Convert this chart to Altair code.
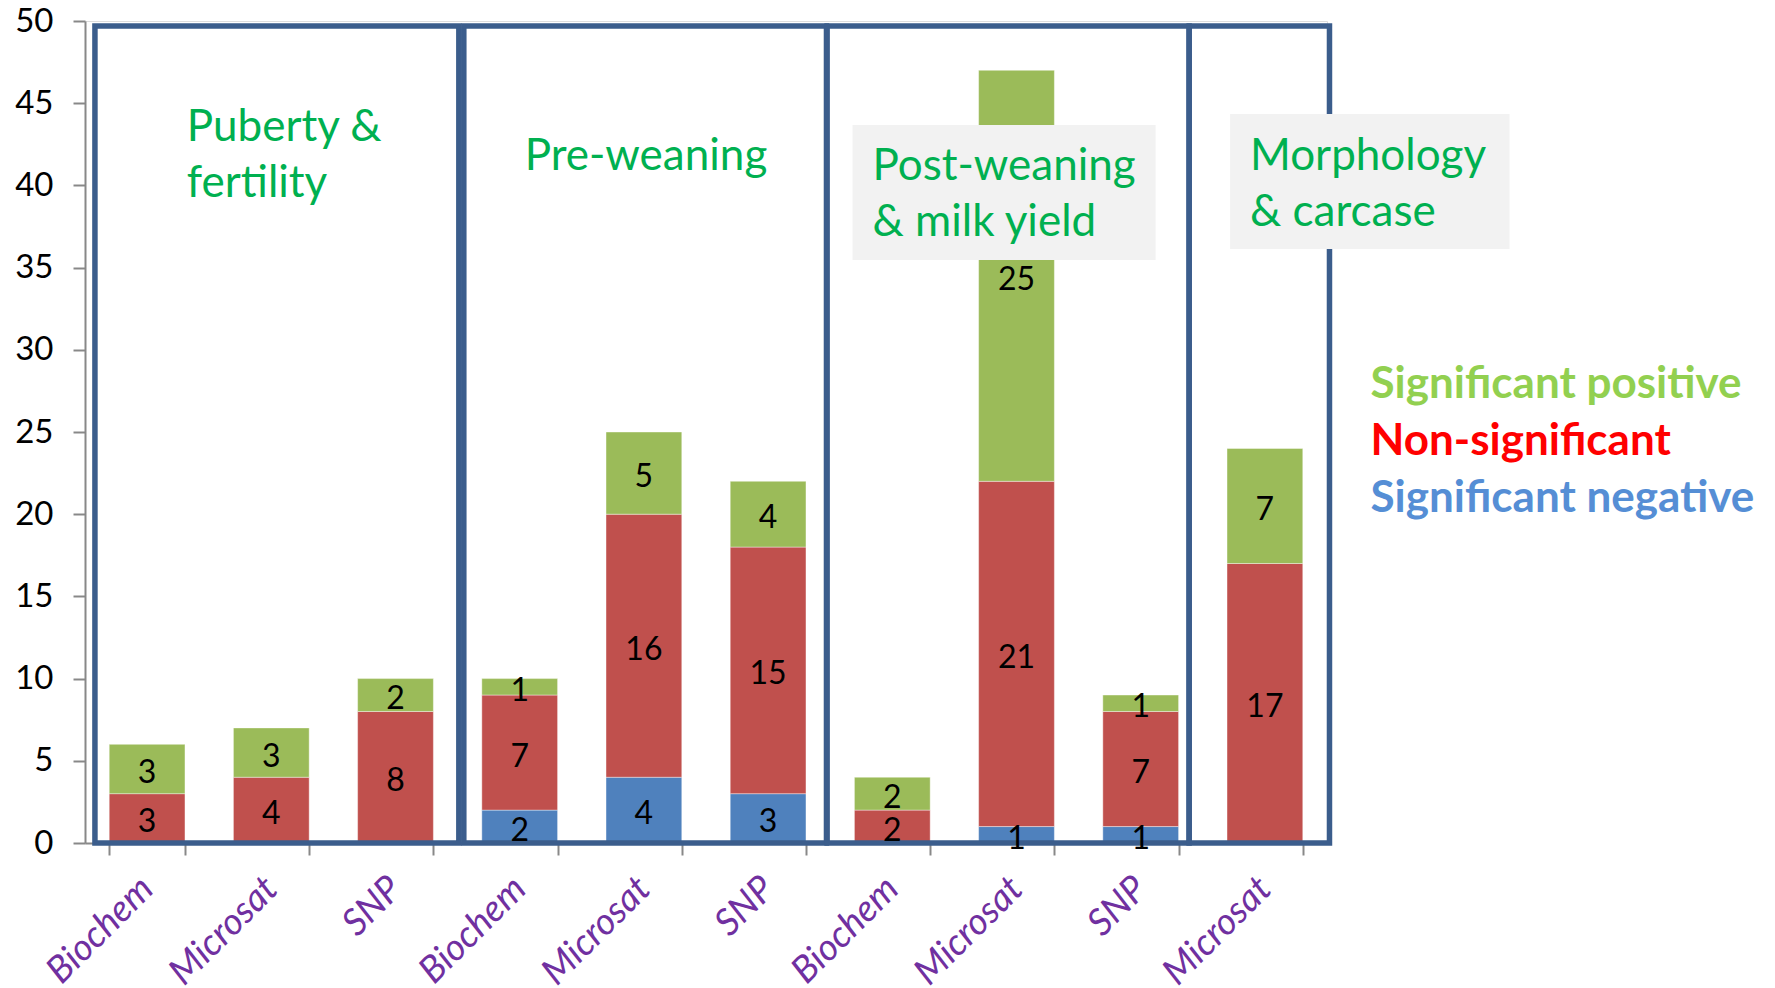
import altair as alt
import pandas as pd

# ---- data -------------------------------------------------------------
groups = ["Puberty & fertility", "Puberty & fertility", "Puberty & fertility",
          "Pre-weaning", "Pre-weaning", "Pre-weaning",
          "Post-weaning & milk yield", "Post-weaning & milk yield", "Post-weaning & milk yield",
          "Morphology & carcase"]
markers = ["Biochem", "Microsat", "SNP",
           "Biochem", "Microsat", "SNP",
           "Biochem", "Microsat", "SNP",
           "Microsat"]
sig_negative = [0, 0, 0, 2, 4, 3, 0, 1, 1, 0]
non_significant = [3, 4, 8, 7, 16, 15, 2, 21, 7, 17]
sig_positive = [3, 3, 2, 1, 5, 4, 2, 25, 1, 7]

classes = ["Significant negative", "Non-significant", "Significant positive"]
bar_colors = ["#4F81BD", "#C0504D", "#9BBB59"]
y_ticks = list(range(0, 51, 5))

group_titles = ["Puberty &\nfertility", "Pre-weaning",
                "Post-weaning\n& milk yield", "Morphology\n& carcase"]
legend_labels = ["Significant positive", "Non-significant", "Significant negative"]
legend_colors = ["#92D050", "#FF0000", "#558ED5"]

# ---- long table -------------------------------------------------------
keys = [f"{i}|{m}" for i, m in enumerate(markers)]
rows = []
for i, k in enumerate(keys):
    for order, vals in enumerate([sig_negative, non_significant, sig_positive]):
        if vals[i] > 0:
            rows.append({"key": k, "group": groups[i], "cls": classes[order],
                         "order": order, "value": vals[i]})
df = pd.DataFrame(rows)

W, H = 1242, 822
FONT = "Lato"

y_scale = alt.Scale(domain=[0, 50], nice=False, zero=True)
y_axis = alt.Axis(values=y_ticks, grid=False, title=None,
                  domainColor="#888888", domainWidth=2,
                  tickColor="#888888", tickWidth=2, tickSize=12,
                  labelFont=FONT, labelFontSize=33, labelColor="black",
                  labelPadding=20)


def yq(field, **kw):
    return alt.Y(field, type="quantitative", scale=y_scale, axis=y_axis, **kw)


x_scale = alt.Scale(paddingInner=0.39, paddingOuter=0.195)
x_axis = alt.Axis(title=None, labelAngle=-45, labelAlign="right", labelBaseline="middle",
                  labelFont=FONT, labelFontStyle="italic", labelFontSize=37,
                  labelColor="#7030A0", labelExpr="split(datum.label, '|')[1]",
                  labelLimit=400, labelPadding=28,
                  tickBand="extent", tickSize=12, tickColor="#888888", tickWidth=2,
                  domainColor="#888888", domainWidth=2)

stacked = (
    alt.Chart(df)
    .transform_stack(stack="value", groupby=["key"],
                     sort=[alt.SortField("order", "ascending")], as_=["y0", "y1"])
    .transform_calculate(mid="(datum.y0 + datum.y1) / 2")
)

bars = stacked.mark_bar(stroke="white", strokeWidth=0.8, strokeOpacity=0.5).encode(
    x=alt.X("key:N", sort=keys, scale=x_scale, axis=x_axis),
    y=yq("y0"),
    y2="y1:Q",
    color=alt.Color("cls:N", scale=alt.Scale(domain=classes, range=bar_colors), legend=None),
)

value_labels = stacked.mark_text(font=FONT, fontSize=32, color="black",
                                 baseline="middle", dy=4).encode(
    x=alt.X("key:N", sort=keys, scale=x_scale, axis=None),
    y=yq("mid"),
    text="value:Q",
)

# ---- annotation layers on a step-unit x scale (one unit per category) ---
u_scale = alt.Scale(domain=[0, 10], nice=False, zero=False)

# group outlines: (left, right) in category steps
outline_spans = [(0.08, 3.01), (3.05, 5.97), (5.975, 8.89), (8.89, 10.02)]
outline_df = pd.DataFrame({"u0": [a for a, _ in outline_spans],
                           "u1": [b for _, b in outline_spans]})
outlines = alt.Chart(outline_df).mark_rect(fill=None, stroke="#3B5D8C", strokeWidth=5.5).encode(
    x=alt.X("u0:Q", scale=u_scale, axis=None),
    x2="u1:Q",
    y=alt.YDatum(49.7, scale=y_scale, axis=y_axis),
    y2=alt.Y2Datum(0),
)

# shaded panels behind two of the group titles
panel_df = pd.DataFrame({"u0": [6.18, 9.22], "u1": [8.62, 11.47],
                         "t": [43.67, 44.34], "b": [35.46, 36.13]})
panels = alt.Chart(panel_df).mark_rect(fill="#F2F2F2", stroke=None).encode(
    x=alt.X("u0:Q", scale=u_scale, axis=None),
    x2="u1:Q",
    y=yq("t"),
    y2="b:Q",
)

title_df = pd.DataFrame({"text": group_titles,
                         "u": [0.82, 3.54, 6.34, 9.38],
                         "y": [42.7, 40.95, 40.3, 40.95]})
titles = alt.Chart(title_df).mark_text(
    font=FONT, fontSize=44, color="#00B050", align="left", baseline="alphabetic",
    lineBreak="\n", lineHeight=56,
).encode(
    x=alt.X("u:Q", scale=u_scale, axis=None),
    y=yq("y"),
    text="text:N",
)

legend_df = pd.DataFrame({"text": legend_labels, "col": legend_colors,
                          "u": [10.35] * 3, "y": [27.07, 23.6, 20.13]})
legend = alt.Chart(legend_df).mark_text(
    font=FONT, fontSize=44, fontWeight="bold", align="left", baseline="alphabetic",
).encode(
    x=alt.X("u:Q", scale=u_scale, axis=None),
    y=yq("y"),
    text="text:N",
    color=alt.Color("col:N", scale=None),
)

chart = (
    alt.layer(bars, outlines, panels, value_labels, titles, legend)
    .resolve_scale(x="independent")
    .properties(width=W, height=H,
                padding={"left": 85, "top": 21, "right": 448, "bottom": 145},
                autosize=alt.AutoSizeParams(type="none"))
    .configure_view(stroke=None)
    .configure(background="white")
)

chart.save("out.html", embed_options={"renderer": "svg", "actions": False})
